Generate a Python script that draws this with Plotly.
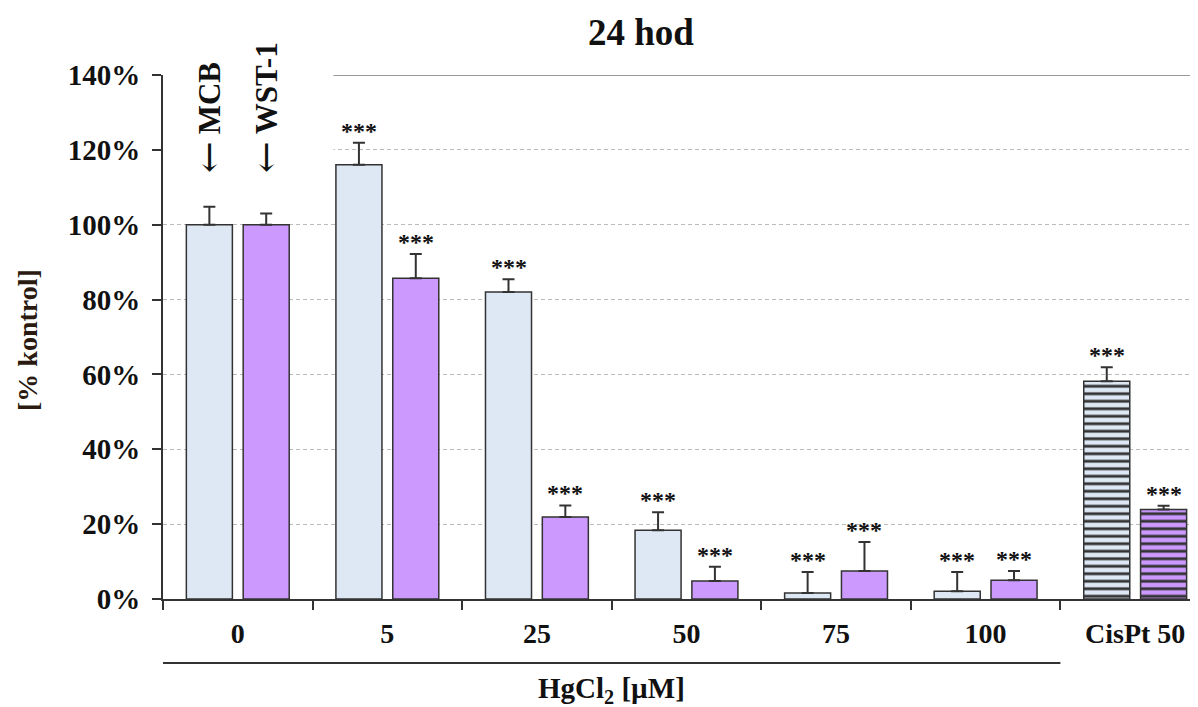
import plotly.graph_objects as go

categories = ["0", "5", "25", "50", "75", "100", "CisPt 50"]
mcb_values = [100, 116, 82, 18.4, 1.6, 2.1, 58.2]
mcb_err = [4.8, 5.9, 3.4, 4.8, 5.6, 5.1, 3.7]
wst_values = [100, 85.7, 21.9, 4.8, 7.5, 5.0, 23.9]
wst_err = [3.0, 6.5, 3.1, 3.8, 7.7, 2.5, 1.0]
mcb_sig = ["", "***", "***", "***", "***", "***", "***"]
wst_sig = ["", "***", "***", "***", "***", "***", "***"]
y_ticks = [0, 20, 40, 60, 80, 100, 120, 140]
y_tick_text = [f"{v}%" for v in y_ticks]

SERIF = "Liberation Serif, Times New Roman, serif"
DARK = "#333333"
TXT = "#111111"
MCB_COLOR = "#DDE8F4"
WST_COLOR = "#CC99FF"

PAGE = 8  # browser body margin
W, H = 1198 - PAGE, 707 - PAGE
ML, MR, MT = 163 - PAGE, 0, 75 - PAGE
PLOT_H = 524
MB = H - MT - PLOT_H
XR = [-0.5, 6.42]
cat_px = (W - ML - MR) / (XR[1] - XR[0])
BARGAP = 0.24
OFF = (1 - BARGAP) * cat_px / 4


def py(px):  # reference screen y -> paper y
    return (599 - px) / PLOT_H


def px_x(px):  # reference screen x -> paper x
    return (px - 163) / (W - ML - MR)


pattern_shapes = ["" if c != "CisPt 50" else "-" for c in categories]

fig = go.Figure()
fig.add_trace(go.Bar(
    x=categories, y=mcb_values, name="MCB",
    marker=dict(color=MCB_COLOR, line=dict(color=DARK, width=1.5),
                pattern=dict(shape=pattern_shapes, fgcolor=DARK, bgcolor=MCB_COLOR,
                             size=7.5, solidity=0.38, fillmode="replace")),
    error_y=dict(type="data", symmetric=False, array=mcb_err,
                 arrayminus=[0] * len(mcb_err), color=DARK, thickness=2, width=6),
))
fig.add_trace(go.Bar(
    x=categories, y=wst_values, name="WST-1",
    marker=dict(color=WST_COLOR, line=dict(color=DARK, width=1.5),
                pattern=dict(shape=pattern_shapes, fgcolor=DARK, bgcolor=WST_COLOR,
                             size=7.5, solidity=0.38, fillmode="replace")),
    error_y=dict(type="data", symmetric=False, array=wst_err,
                 arrayminus=[0] * len(wst_err), color=DARK, thickness=2, width=6),
))

annotations = []
for i, (v, e, s) in enumerate(zip(mcb_values, mcb_err, mcb_sig)):
    if s:
        annotations.append(dict(x=i, y=v + e, xref="x", yref="y", text=s, showarrow=False,
                                xshift=-OFF, yanchor="bottom", yshift=-3,
                                font=dict(family=SERIF, size=24, color=TXT, weight="bold")))
for i, (v, e, s) in enumerate(zip(wst_values, wst_err, wst_sig)):
    if s:
        annotations.append(dict(x=i, y=v + e, xref="x", yref="y", text=s, showarrow=False,
                                xshift=OFF, yanchor="bottom", yshift=-3,
                                font=dict(family=SERIF, size=24, color=TXT, weight="bold")))

# series labels with arrows
for label, sh in (("MCB", -OFF), ("WST-1", OFF)):
    annotations.append(dict(x=0, y=py(136), xref="x", yref="paper", text=label,
                            textangle=-90, showarrow=False, xshift=sh, yanchor="bottom",
                            font=dict(family=SERIF, size=31, color=TXT, weight="bold")))
    annotations.append(dict(x=0, y=py(157), xref="x", yref="paper", text="←",
                            textangle=-90, showarrow=False, xshift=sh, yanchor="middle",
                            font=dict(family="DejaVu Serif", size=38, color=TXT)))

# y-axis title
annotations.append(dict(x=px_x(27), y=py(340), xref="paper", yref="paper",
                        text="[% kontrol]", textangle=-90, showarrow=False,
                        xanchor="center", yanchor="middle",
                        font=dict(family=SERIF, size=28, color="#2a1a10", weight="bold")))
# x-axis group title
annotations.append(dict(x=2.5, y=py(690), xref="x", yref="paper",
                        text="HgCl<sub>2</sub> [µM]", showarrow=False,
                        xanchor="center", yanchor="middle",
                        font=dict(family=SERIF, size=29, color=TXT, weight="bold")))

shapes = [
    # white mask hiding gridlines behind the labels
    dict(type="rect", xref="x", yref="y", x0=-0.5, x1=0.64, y0=110, y1=141,
         fillcolor="white", line=dict(width=0), layer="between"),
    # solid top line
    dict(type="line", xref="x", yref="y", x0=0.64, x1=XR[1], y0=140, y1=140,
         line=dict(color="#999999", width=2), layer="between"),
    # bracket line under HgCl2 categories
    dict(type="line", xref="x", yref="paper", x0=-0.5, x1=5.5,
         y0=py(663), y1=py(663), line=dict(color=DARK, width=2)),
]

fig.update_layout(
    width=W, height=H,
    margin=dict(l=ML, r=MR, t=MT, b=MB, pad=0),
    paper_bgcolor="white", plot_bgcolor="white",
    barmode="group", bargap=BARGAP, bargroupgap=0.19,
    showlegend=False,
    title=dict(text="24 hod", x=(641 - PAGE) / W, xref="container", xanchor="center",
               y=1 - (32 - PAGE) / H, yref="container", yanchor="middle",
               font=dict(family=SERIF, size=37, color=TXT, weight="bold")),
    annotations=annotations,
    shapes=shapes,
    xaxis=dict(type="category", range=XR, showline=True, linecolor=DARK, linewidth=2,
               ticks="outside", tickson="boundaries", ticklen=9, tickwidth=2, tickcolor=DARK,
               tickfont=dict(family=SERIF, size=28, color=TXT, weight="bold"),
               ticklabelstandoff=8, showgrid=False, zeroline=False, fixedrange=True),
    yaxis=dict(range=[0, 140], tickvals=y_ticks, ticktext=y_tick_text,
               showline=True, linecolor=DARK, linewidth=2,
               ticks="outside", ticklen=9, tickwidth=2, tickcolor=DARK,
               tickfont=dict(family=SERIF, size=29, color=TXT, weight="bold"),
               ticklabelstandoff=6,
               showgrid=True, gridcolor="#BBBBBB", gridwidth=1, griddash="4px,3px",
               zeroline=False, fixedrange=True),
)

fig.write_html("out.html")
